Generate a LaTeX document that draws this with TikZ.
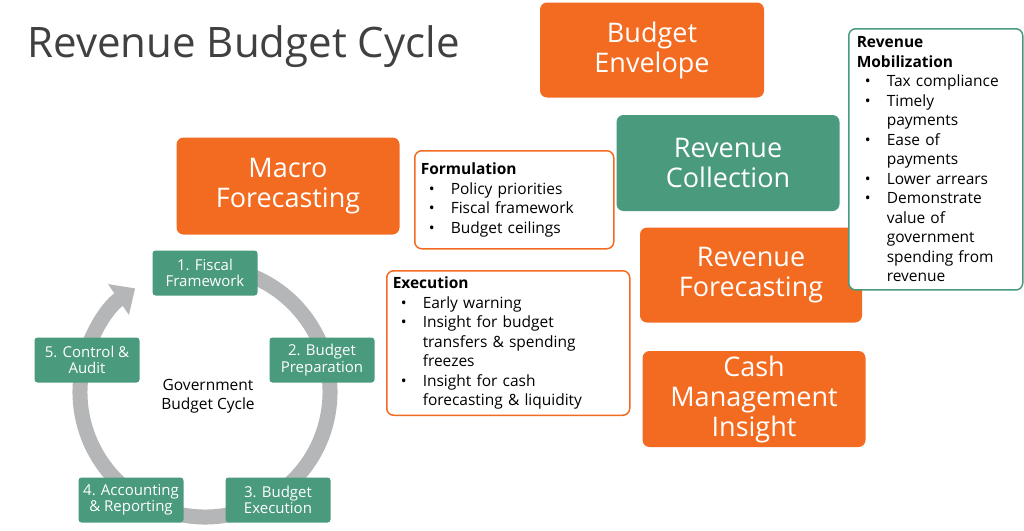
\documentclass[tikz,border=0pt]{standalone}
\usepackage{fontspec}
\setmainfont{Open Sans}
\usepackage{enumitem}
\usetikzlibrary{positioning, arrows.meta}
\definecolor{orng}{HTML}{F36B21}
\definecolor{teal}{HTML}{4A9A7E}
\definecolor{ring}{HTML}{B5B6B8}
\setlist[itemize]{nosep, leftmargin=30pt, labelsep=16pt}
\begin{document}
\begin{tikzpicture}[x=1pt, y=-1pt,
    bigbox/.style={fill=orng, rounded corners=7pt, text=white, align=center, font=\fontsize{27}{30}\selectfont, inner sep=0pt},
    stepbox/.style={fill=teal, rounded corners=3pt, text=white, align=center, font=\fontsize{15}{16.5}\selectfont, minimum width=105pt, minimum height=45pt, inner sep=0pt},
    listbox/.style={draw=orng, line width=1.5pt, rounded corners=7pt, fill=white, align=left, font=\fontsize{15.5}{19.5}\selectfont, anchor=north west, inner sep=6pt}
]
    \useasboundingbox (0,0) rectangle (1024,530);
    \node[anchor=west, font=\fontsize{42}{48}\selectfont, text=black!75] (title) at (24,47) {Revenue Budget Cycle};

    % Big boxes
    \node[bigbox, minimum width=224pt, minimum height=95pt] (env) at (652,50) {Budget\\Envelope};
    \node[bigbox, minimum width=223pt, minimum height=97pt] (macro) at (288,186) {Macro\\Forecasting};
    \node[bigbox, fill=teal, minimum width=223pt, minimum height=96pt] (coll) at (728,163) {Revenue\\Collection};
    \node[bigbox, minimum width=222pt, minimum height=95pt] (fore) at (751,275) {Revenue\\Forecasting};
    \node[bigbox, minimum width=223pt, minimum height=96pt] (cash) at (754,399) {Cash\\Management\\Insight};

    % List boxes
    \node[listbox, text width=187pt, inner ysep=12pt] (form) at (414,150) {\textbf{Formulation}
      \begin{itemize}\item Policy priorities \item Fiscal framework \item Budget ceilings\end{itemize}};
    \node[listbox, text width=231pt] (exec) at (386,270) {\textbf{Execution}
      \begin{itemize}[rightmargin=30pt]\item Early warning \item Insight for budget transfers \& spending freezes \item Insight for cash forecasting \& liquidity\end{itemize}};
    \node[listbox, draw=teal, text width=158pt, inner xsep=8pt, inner ysep=8pt] (mob) at (848,28) {\textbf{Revenue\\Mobilization}
      \begin{itemize}[leftmargin=30pt, rightmargin=12pt]\item Tax compliance \item Timely payments \item Ease of payments \item Lower arrears \item Demonstrate value of government spending from revenue\end{itemize}};

    % Cycle
    \coordinate (c) at (205,392);
    \draw[ring, line width=15pt, -{Triangle[width=36pt, length=20pt]}]
        ([shift={(-80:125)}]c) arc[start angle=-80, end angle=236, radius=125];
    \node[align=center, font=\fontsize{15.5}{19}\selectfont] (gbc) at (208,396) {Government\\Budget Cycle};
    \node[stepbox] (s1) at (205,273) {1. Fiscal\\Framework};
    \node[stepbox] (s2) at (322,360) {2. Budget\\Preparation};
    \node[stepbox] (s3) at (278,500) {3. Budget\\Execution};
    \node[stepbox] (s4) at (131,500) {4. Accounting\\\& Reporting};
    \node[stepbox] (s5) at (87,360) {5. Control \&\\Audit};
\end{tikzpicture}
\end{document}
